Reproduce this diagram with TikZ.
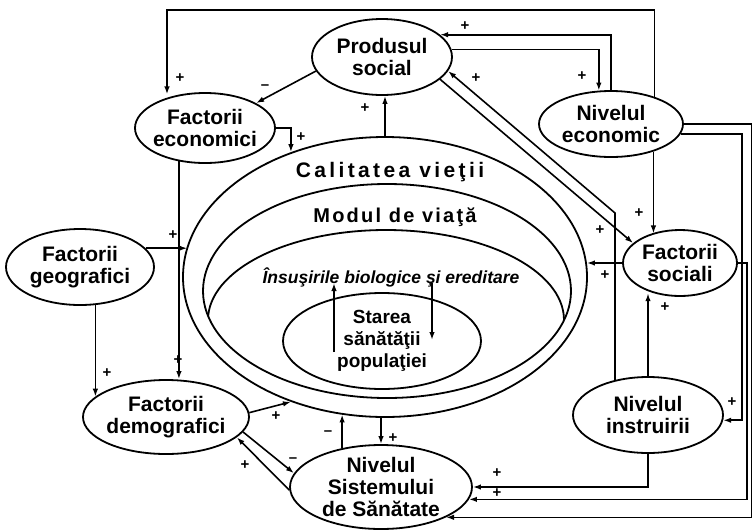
\documentclass[tikz,border=0pt]{standalone}
\usepackage{fontspec}
\setmainfont{Liberation Sans}
\newfontfamily\spacedA[LetterSpace=16]{Liberation Sans}
\newfontfamily\spacedB[LetterSpace=11]{Liberation Sans}
\usetikzlibrary{shapes.geometric,arrows.meta,calc}
\begin{document}
\begin{tikzpicture}[x=1pt,y=-1pt,
  ell/.style={ellipse, draw, line width=1.8pt, inner sep=-3pt, align=center,
    font=\bfseries\fontsize{21}{22}\selectfont},
  big/.style={ellipse, draw, line width=1.8pt, inner sep=0pt},
  arr/.style={line width=1.6pt, -{Latex[length=8pt,width=5.5pt]}},
  lab/.style={font=\bfseries\fontsize{15}{15}\selectfont, inner sep=0pt}]
\useasboundingbox (0,0) rectangle (753,531);
\fill[white] (0,0) rectangle (753,531);

% nested ellipses
\node[big, minimum width=404pt, minimum height=280pt] (outer) at (385,277) {};
\node[big, minimum width=368pt, minimum height=214pt] (modul) at (387,291) {};
\begin{scope}
  \clip (387,291) ellipse [x radius=184pt, y radius=107pt];
  \draw[line width=1.8pt] (386,320) ellipse [x radius=178pt, y radius=90pt];
\end{scope}
\node[big, minimum width=198pt, minimum height=96pt, align=center,
  font=\bfseries\fontsize{19}{22}\selectfont] (starea) at (382,341) {Starea\\sănătăţii\\populaţiei};

\node[font={\spacedA\bfseries\fontsize{21}{22}\selectfont}] (tcal) at (390,172) {Calitatea vieţii};
\node[font={\spacedB\bfseries\fontsize{20}{22}\selectfont}] (tmod) at (395,217) {Modul de viaţă};
\node[font={\bfseries\itshape\fontsize{17.5}{20}\selectfont}] (tins) at (391,277) {Însuşirile biologice şi ereditare};

% outer nodes
\node[ell, minimum width=140pt, minimum height=76pt] (prod) at (382,57) {Produsul\\social};
\node[ell, minimum width=140pt, minimum height=70pt] (fec) at (205,128) {Factorii\\economici};
\node[ell, minimum width=144pt, minimum height=66pt] (nec) at (611,124) {Nivelul\\economic};
\node[ell, minimum width=148pt, minimum height=76pt] (fge) at (80,267) {Factorii\\geografici};
\node[ell, minimum width=166pt, minimum height=74pt] (fde) at (166,417) {Factorii\\demografici};
\node[ell, minimum width=182pt, minimum height=84pt] (nss) at (381,487) {Nivelul\\Sistemului\\de Sănătate};
\node[ell, minimum width=114pt, minimum height=66pt] (fso) at (680,263) {Factorii\\sociali};
\node[ell, minimum width=150pt, minimum height=76pt] (nin) at (648,415) {Nivelul\\instruirii};

% helper coordinates
\coordinate (tl) at (167,10);
\coordinate (c13) at (615,213);
\coordinate (r1) at (742,300);
\coordinate (r2) at (747,400);
\coordinate (r3) at (751.5,400);
\coordinate (up1) at (334,352);
\coordinate (up2) at (334,283);
\coordinate (dn1) at (432,283);
\coordinate (dn2) at (432,340);

% connectors
\draw[arr] (nec.32.5) |- (tl) -- (tl |- fec.127.7);
\draw[arr] (prod.192.6) -- (fec.26.1);
\draw[arr] (fec.east) -| (outer.127.9);
\draw[arr] (fec.232.3) -- (fec.232.3 |- fde.north);
\draw[arr] (outer.north) -- (outer.north |- prod.south);
\draw[arr] (fge.16.5) -- (fge.16.5 -| outer.171.65);
\draw[arr] (fge.-68) -- (fge.-68 |- fde.164.9);
\draw[arr] (fde.3) -- (outer.233.6);
\draw[arr] (fde.-11.2) -- (nss.171.9);
\draw[arr] (nss.182) -- (fde.-16.9);
\draw[arr] (nss.135.8) -- (nss.135.8 |- outer.252.55);
\draw[arr] (nss.north |- outer.south) -- (nss.north);
\draw[arr] (prod.6.7) -| (nec.110.3);
\draw[arr] (nec.north) |- (prod.21.1);
\draw[arr] (c13 |- nin.134.1) -- (c13) -- (prod.-12);
\draw[arr] (prod.-21.3) -- (fso.157.4);
\draw[arr] (nec.-33.5) -- (nec.-33.5 |- fso.134.3);
\draw[arr] (fso.west) -- (fso.west -| outer.4);
\draw[arr] (nin.north) -- (nin.north |- fso.229.5);
\draw[arr] (nin.south) |- (nss.east);
\draw[arr] (nec.-8.3) -| (r1) |- (nin.-4.6);
\draw[arr] (fso.east) -| (r2) |- (nss.-8.5);
\draw[arr] (nec.east) -| (r3) |- (nss.-25.2);
\draw[arr] (up1) -- (up2);
\draw[arr] (dn1) -- (dn2);

% labels
\node[lab] (l1) at (180,78) {+};
\node[lab] (l2) at (265,87) {–};
\node[lab] (l3) at (301,137) {+};
\node[lab] (l4) at (178,360) {+};
\node[lab] (l5) at (365,108) {+};
\node[lab] (l6) at (173,235) {+};
\node[lab] (l7) at (107,373) {+};
\node[lab] (l8) at (276,416) {+};
\node[lab] (l9) at (293,460) {–};
\node[lab] (l10) at (245,465) {+};
\node[lab] (l11) at (328,433) {–};
\node[lab] (l12) at (393,438) {+};
\node[lab] (l13) at (582,76) {+};
\node[lab] (l14) at (465,26) {+};
\node[lab] (l15) at (476,78) {+};
\node[lab] (l16) at (600,230) {+};
\node[lab] (l17) at (639,213) {+};
\node[lab] (l18) at (605,275) {+};
\node[lab] (l19) at (665,307) {+};
\node[lab] (l20) at (497,473) {+};
\node[lab] (l21) at (497,493) {+};
\node[lab] (l22) at (732,402) {+};
\end{tikzpicture}
\end{document}
